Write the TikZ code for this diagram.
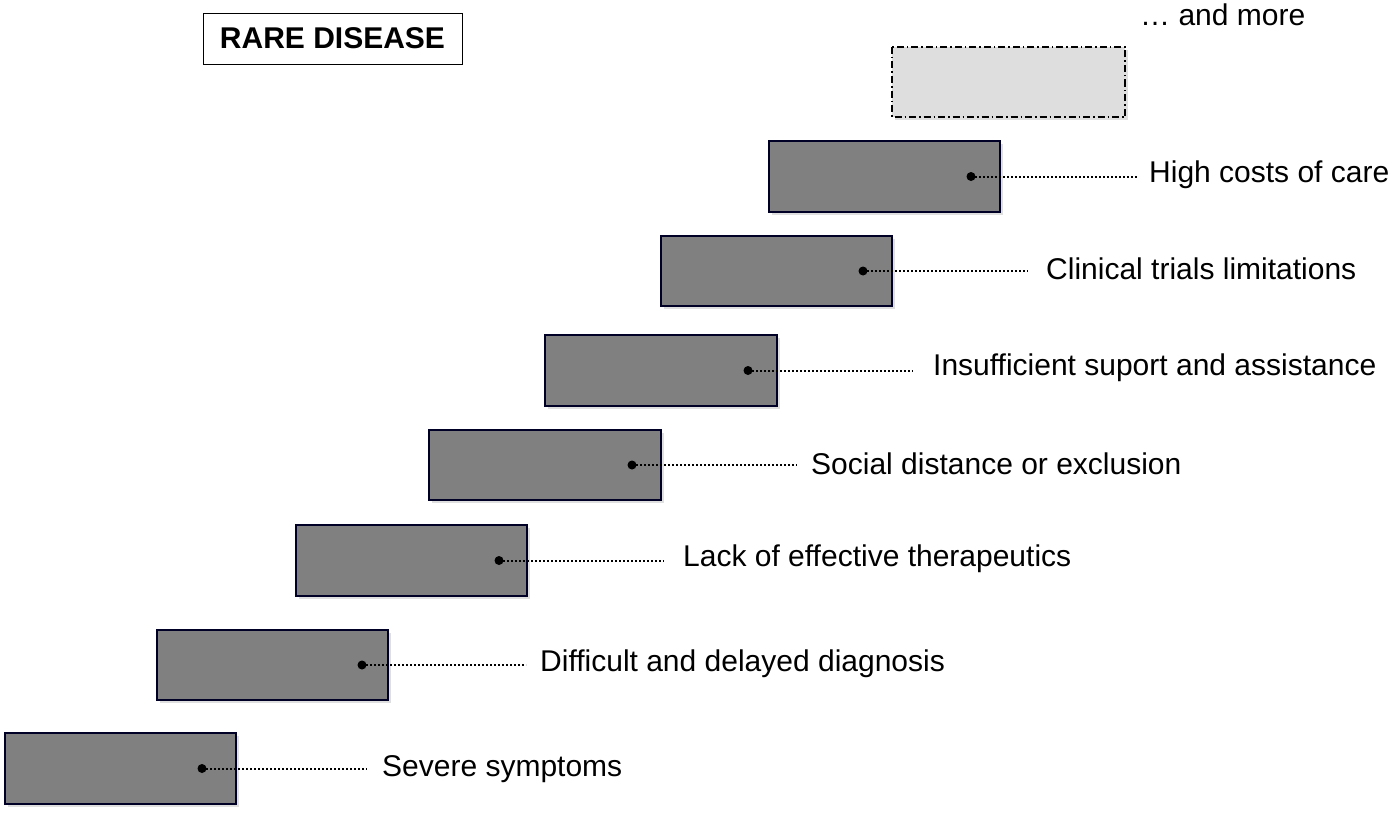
\documentclass[tikz,border=0pt]{standalone}
\usepackage{fontspec}
\setmainfont{Liberation Sans}
\begin{document}
\begin{tikzpicture}[x=1pt,y=-1pt,
 stepbox/.style={draw=black!85!blue,line width=1.3pt,fill=black!50},
 lab/.style={anchor=west,font=\fontsize{30}{34}\selectfont,inner sep=0pt},
 lead/.style={line width=2pt,dash pattern=on 2pt off 2pt}]
\useasboundingbox (0,0) rectangle (1397,816);
\newcommand\stp[7]{%
 \fill[black!25,opacity=0.5] (#1+3,#2+3) rectangle (#3+3,#4+3);
 \draw[stepbox] (#1,#2) rectangle (#3,#4);
 \fill (#5,{(#2+#4)/2}) circle (4.5);
 \coordinate (d#7) at (#5,{(#2+#4)/2});
 \coordinate (e#7) at (#6,{(#2+#4)/2});
 \draw[lead] (d#7) -- (e#7);}
\stp{5}{733}{236}{804}{202}{367}{1}
\stp{157}{630}{388}{700}{362}{526}{2}
\stp{296}{525}{527}{596}{499}{664}{3}
\stp{429}{430}{661}{500}{632}{797}{4}
\stp{545}{335}{777}{406}{748}{913}{5}
\stp{661}{236}{892}{306}{863}{1028}{6}
\stp{769}{141}{1000}{212}{971}{1137}{7}
\node[lab] (l1) at (382,769) {Severe symptoms};
\node[lab] (l2) at (540,664) {Difficult and delayed diagnosis};
\node[lab] (l3) at (683,559) {Lack of effective therapeutics};
\node[lab] (l4) at (811,464) {Social distance or exclusion};
\node[lab] (l5) at (933,368) {Insufficient suport and assistance};
\node[lab] (l6) at (1046,269) {Clinical trials limitations};
\node[lab] (l7) at (1149,175) {High costs of care};
\node[lab] (lm) at (1140,15) {… and more};
\fill[black!25,opacity=0.5] (895,50) rectangle (1128,120);
\draw[fill=black!13,line width=1.3pt,dash pattern=on 7pt off 3pt on 1.5pt off 3pt] (892,47) rectangle (1125,117);
\node[draw,line width=0.8pt,minimum width=259pt,minimum height=51pt,font=\fontsize{30}{34}\selectfont\bfseries] (rd) at (332.5,38.5) {RARE DISEASE};
\end{tikzpicture}
\end{document}
